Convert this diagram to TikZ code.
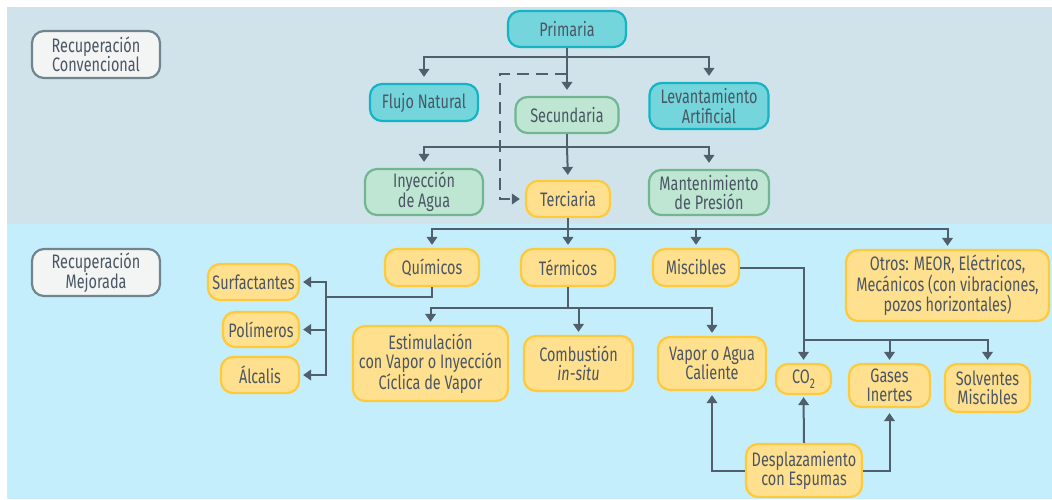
\documentclass[tikz,border=0pt]{standalone}
\usepackage{fontspec}
\setmainfont{Fira Sans}[FakeStretch=0.74]
\usetikzlibrary{arrows.meta}

\definecolor{bandtop}{HTML}{D0E3EA}
\definecolor{bandlow}{HTML}{C4EEFC}
\definecolor{tealf}{HTML}{74D5DC}
\definecolor{teald}{HTML}{15B3C4}
\definecolor{greenf}{HTML}{BEE6D2}
\definecolor{greend}{HTML}{72B591}
\definecolor{yellowf}{HTML}{FFE08F}
\definecolor{yellowd}{HTML}{FFC93C}
\definecolor{grayf}{HTML}{F3F4F4}
\definecolor{grayd}{HTML}{71858F}
\definecolor{wire}{HTML}{515F6C}
\definecolor{txt}{HTML}{4A5663}

\newcommand{\lowtwo}{\raisebox{-4.5pt}{\fontsize{14}{14}\selectfont 2}}

\tikzset{
  box/.style={draw, rounded corners=12pt, line width=2.2pt, align=center,
    inner sep=0pt, text=txt, font=\fontsize{19.5}{19.5}\selectfont},
  tealbox/.style={box, fill=tealf, draw=teald},
  greenbox/.style={box, fill=greenf, draw=greend},
  yellowbox/.style={box, fill=yellowf, draw=yellowd},
  graybox/.style={box, fill=grayf, draw=grayd},
  wireline/.style={draw=wire, line width=2pt},
  arr/.style={wireline, -{Triangle[length=8pt,width=10.5pt]}, shorten >=#1},
  arr/.default=5pt,
  dasharr/.style={arr=5pt, dash pattern=on 12pt off 7pt},
}

\begin{document}
\begin{tikzpicture}[x=1pt,y=-1pt]
\useasboundingbox (0,0) rectangle (1052,499);
\fill[white] (0,0) rectangle (1052,499);
\fill[bandtop] (7,7) rectangle (1052,224);
\fill[bandlow] (7,224) rectangle (1052,499);

% section labels
\node[graybox, minimum width=128pt, minimum height=47pt] (conv) at (96,54.5) {Recuperación\\Convencional};
\node[graybox, minimum width=128pt, minimum height=47pt] (mej) at (96,272.5) {Recuperación\\Mejorada};

% conventional recovery
\node[tealbox, minimum width=118pt, minimum height=36pt] (prim) at (567,29) {Primaria};
\node[tealbox, minimum width=108pt, minimum height=37pt] (flujo) at (424,102.5) {Flujo Natural};
\node[greenbox, minimum width=103pt, minimum height=36pt] (sec) at (567,115) {Secundaria};
\node[tealbox, minimum width=119pt, minimum height=46pt] (lev) at (709,106) {Levantamiento\\Artificial};
\node[greenbox, minimum width=118pt, minimum height=46pt] (iny) at (424,192) {Inyección\\de Agua};
\node[yellowbox, minimum width=84pt, minimum height=36pt] (ter) at (568,199) {Terciaria};
\node[greenbox, minimum width=120pt, minimum height=45pt] (man) at (709,192.5) {Mantenimiento\\de Presión};

% enhanced recovery
\node[yellowbox, minimum width=94pt, minimum height=37pt] (quim) at (432,267.5) {Químicos};
\node[yellowbox, minimum width=94pt, minimum height=37pt] (term) at (568,267.5) {Térmicos};
\node[yellowbox, minimum width=86pt, minimum height=37pt] (misc) at (696,267.5) {Miscibles};
\node[yellowbox, minimum width=203pt, minimum height=71pt] (otros) at (947.5,285.5) {Otros: MEOR, Eléctricos,\\Mecánicos (con vibraciones,\\pozos horizontales)};
\node[yellowbox, minimum width=91pt, minimum height=36pt] (surf) at (253.5,282) {Surfactantes};
\node[yellowbox, minimum width=76pt, minimum height=35pt] (poli) at (261,329.5) {Polímeros};
\node[yellowbox, minimum width=78pt, minimum height=36pt] (alc) at (260,375) {Álcalis};
\node[yellowbox, minimum width=155pt, minimum height=75pt] (estim) at (430.5,363.5) {Estimulación\\con Vapor o Inyección\\Cíclica de Vapor};
\node[yellowbox, minimum width=109pt, minimum height=55pt] (comb) at (578.5,363.5) {Combustión\\\textit{in-situ}};
\node[yellowbox, minimum width=108pt, minimum height=53pt] (vapor) at (712,363.5) {Vapor o Agua\\Caliente};
\node[yellowbox, minimum width=55pt, minimum height=30pt] (co2) at (803.5,379) {CO\lowtwo};
\node[yellowbox, minimum width=81pt, minimum height=43pt] (gas) at (889.5,385.5) {Gases\\Inertes};
\node[yellowbox, minimum width=85pt, minimum height=48pt] (solv) at (987.5,388) {Solventes\\Miscibles};
\node[yellowbox, minimum width=116pt, minimum height=53pt] (desp) at (804,470.5) {Desplazamiento\\con Espumas};

% junction points
\coordinate (b1) at (prim.south |- 0,57);
\coordinate (d1) at (prim.south |- 0,74);
\coordinate (d2) at (500,74);
\coordinate (b2) at (sec.south |- 0,147);
\coordinate (b3) at (ter.south |- 0,229);
\coordinate (c1) at (326,297);
\coordinate (t1) at (term.south |- 0,308);
\coordinate (m1) at (co2.north |- 0,340);

% Primaria branches
\draw[wireline] (prim.south) -- (b1);
\draw[arr=6pt] (b1) -| (flujo.north);
\draw[arr=6pt] (b1) -| (lev.north);
\draw[arr=6pt] (b1) -- (sec.north);
\draw[dasharr] (d1) -- (d2) |- (ter.west);

% Secundaria branches
\draw[wireline] (sec.south) -- (b2);
\draw[arr=6pt] (b2) -| (iny.north);
\draw[arr=6pt] (b2) -| (man.north);
\draw[arr=5pt] (b2) -- (ter.north);

% Terciaria branches
\draw[wireline] (ter.south) -- (b3);
\draw[arr=3pt] (b3) -| (quim.north);
\draw[arr=3pt] (b3) -- (term.north);
\draw[arr=3pt] (b3) -| (misc.north);
\draw[arr=3pt] (b3) -| (otros.north);

% chemical methods
\draw[wireline] (quim.south) |- (c1);
\draw[arr=3pt] (c1) |- (surf.east);
\draw[arr=3pt] (c1) |- (poli.east);
\draw[arr=3pt] (c1) |- (alc.east);

% thermal methods
\draw[wireline] (term.south) -- (t1);
\draw[arr=3pt] (t1) -| (estim.north);
\draw[arr=3pt] (t1) -| (comb.north);
\draw[arr=3pt] (t1) -| (vapor.north);

% miscible methods
\draw[arr=3pt] (misc.east) -| (co2.north);
\draw[arr=3pt] (m1) -| (gas.north);
\draw[arr=3pt] (m1) -| (solv.north);

% foam displacement
\draw[arr=2pt] (desp.north) -- (co2.south);
\draw[arr=4pt] (desp.west) -| (vapor.south);
\draw[arr=5pt] (desp.east) -| (gas.south);
\end{tikzpicture}
\end{document}
